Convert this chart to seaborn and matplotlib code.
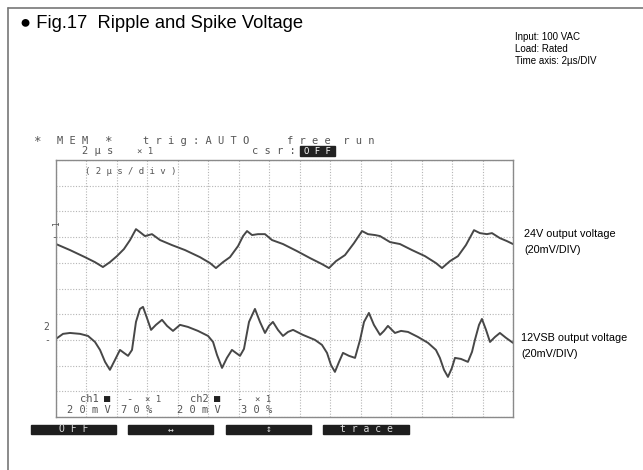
import numpy as np
import pandas as pd
import matplotlib
matplotlib.use("Agg")
import matplotlib.pyplot as plt
from matplotlib.patches import Rectangle
import seaborn as sns

# --- data (time in us, voltage in mV relative to channel marker) ---
ch1_t = [0.00, 0.92, 1.90, 2.56, 3.08, 3.54, 4.00, 4.46, 4.86, 5.25, 5.51, 5.84, 6.30, 6.83,
         7.61, 8.47, 9.45, 10.11, 10.50, 10.96, 11.42, 11.95, 12.28, 12.54, 12.87, 13.26,
         13.72, 14.18, 14.90, 15.82, 16.67, 17.46, 17.92, 18.38, 18.97, 19.56, 20.09, 20.48,
         20.94, 21.27, 21.93, 22.58, 23.37, 24.22, 24.94, 25.34, 25.86, 26.39, 26.91, 27.44,
         27.83, 28.29, 28.62, 29.14, 29.60, 30.00]
ch1_mv = [-5.4, -10.1, -15.6, -19.5, -23.3, -19.5, -14.8, -9.3, -2.3, 6.2, 3.9, 0.8, 2.3, -2.3,
          -6.2, -10.1, -15.6, -20.2, -24.1, -19.5, -15.6, -7.0, 0.8, 4.7, 1.6, 2.3,
          2.3, -2.3, -5.4, -10.9, -16.3, -21.0, -24.1, -18.7, -14.0, -4.7, 4.7, 2.3,
          1.6, 0.8, -3.9, -5.4, -10.1, -14.8, -20.2, -24.1, -18.7, -14.8, -6.2, 5.4,
          3.1, 2.3, 3.1, -0.8, -3.1, -5.4]

ch2_t = [0.00, 0.46, 0.92, 1.58, 2.10, 2.56, 2.89, 3.22, 3.54, 3.87, 4.20, 4.46, 4.73, 4.99,
         5.25, 5.51, 5.71, 5.97, 6.24, 6.56, 6.96, 7.29, 7.68, 8.14, 8.66, 9.32, 9.98, 10.31,
         10.57, 10.90, 11.22, 11.55, 11.81, 12.08, 12.34, 12.67, 13.06, 13.39, 13.72, 13.98,
         14.24, 14.57, 14.90, 15.23, 15.56, 16.21, 17.00, 17.46, 17.79, 18.05, 18.31, 18.58,
         18.84, 19.23, 19.63, 19.96, 20.22, 20.54, 20.87, 21.27, 21.53, 21.79, 22.25, 22.65,
         23.11, 23.76, 24.42, 24.94, 25.20, 25.47, 25.73, 25.99, 26.19, 26.58, 27.04, 27.31,
         27.50, 27.77, 27.96, 28.23, 28.49, 28.82, 29.14, 29.54, 30.00]
ch2_mv = [0.8, 4.7, 5.4, 4.7, 3.1, -1.6, -7.8, -17.1, -23.3, -15.6, -7.8, -10.1, -12.4, -7.8,
          14.0, 24.1, 25.7, 17.1, 7.8, 11.7, 15.6, 10.9, 7.0, 11.7, 10.1, 7.0, 3.1, -1.6,
          -11.7, -21.8, -14.0, -7.8, -10.1, -12.4, -7.0, 14.0, 24.1, 14.0, 5.4, 10.9,
          14.0, 7.8, 3.1, 6.2, 7.8, 3.9, 0.0, -3.9, -10.1, -19.5, -24.9, -17.1,
          -10.1, -12.4, -14.0, 0.0, 14.0, 21.0, 11.7, 3.9, 7.0, 10.9, 5.4, 7.0,
          6.2, 2.3, -2.3, -7.8, -14.0, -23.3, -28.8, -21.8, -14.0, -14.8, -17.1, -9.3,
          0.0, 11.7, 16.3, 7.8, -1.6, 2.3, 5.4, 1.6, -2.3]

mv_per_div = 20
ch1_offset = 2   # divisions above centre (70%)
ch2_offset = -2  # divisions below centre (30%)

W, H = 643, 470

df = pd.concat([
    pd.DataFrame({'t': ch1_t, 'pos': np.array(ch1_mv) / mv_per_div + ch1_offset, 'ch': 'ch1'}),
    pd.DataFrame({'t': ch2_t, 'pos': np.array(ch2_mv) / mv_per_div + ch2_offset, 'ch': 'ch2'}),
])

sns.set_style("white")
fig = plt.figure(figsize=(W / 100, H / 100), dpi=100)


def put(x, y, s, **kw):
    """texto en coordenadas de pixel (origen arriba a la izquierda)"""
    kw.setdefault('va', 'center')
    return fig.text(x / W, 1 - y / H, s, **kw)


def rect(x0, y0, x1, y1, **kw):
    fig.patches.append(Rectangle((x0 / W, 1 - y1 / H), (x1 - x0) / W, (y1 - y0) / H,
                                 transform=fig.transFigure, figure=fig, **kw))


# marco exterior (solo arriba e izquierda visibles)
fig.add_artist(plt.Line2D([8 / W, 8 / W], [0, 1 - 8 / H], transform=fig.transFigure,
                          color='#777777', lw=1.2))
fig.add_artist(plt.Line2D([8 / W, 1], [1 - 8 / H, 1 - 8 / H], transform=fig.transFigure,
                          color='#777777', lw=1.2))

# pantalla del osciloscopio
left, top, right, bottom = 56, 160, 513, 417
ax = fig.add_axes([left / W, 1 - bottom / H, (right - left) / W, (bottom - top) / H])
sns.lineplot(data=df, x='t', y='pos', hue='ch', palette={'ch1': '#474747', 'ch2': '#474747'},
             estimator=None, sort=False, legend=False, lw=1.4, ax=ax)
ax.set_xlim(0, 30)
ax.set_ylim(-5, 5)
ax.set_xticks(np.arange(0, 31, 2))
ax.set_yticks(np.arange(-5, 6, 1))
ax.grid(True, ls=(0, (1, 1.5)), color='#b5b5b5', lw=0.8)
ax.tick_params(length=0, labelbottom=False, labelleft=False)
ax.set_xlabel('')
ax.set_ylabel('')
for sp in ax.spines.values():
    sp.set_color('#8a8a8a')
    sp.set_linewidth(1.0)

mono = ['DejaVu Sans Mono', 'DejaVu Sans']
grey = '#555555'

# cabecera del osciloscopio
put(33, 141, '*', family=mono, fontsize=9, color=grey)
put(57, 141, 'M E M', family=mono, fontsize=7.5, color=grey)
put(104, 141, '*', family=mono, fontsize=9, color=grey)
put(143, 141, 't r i g : A U T O', family=mono, fontsize=7.5, color=grey)
put(287, 141, 'f r e e  r u n', family=mono, fontsize=7.5, color=grey)
put(82, 151, '2 µ s', family=mono, fontsize=7.5, color=grey)
put(137, 151, '× 1', family=mono, fontsize=6.5, color=grey)
put(252, 151, 'c s r :', family=mono, fontsize=7.5, color=grey)
rect(300, 146, 335, 156, color='#222222')
put(317.5, 151, 'O F F', family=mono, fontsize=6.5, color='white', ha='center')
put(85, 172, '( 2 µ s / d i v )', family=mono, fontsize=6.5, color=grey)

# marcadores de canal
put(52, 224, '1', family=mono, fontsize=5.5, color=grey, rotation=90)
put(51, 237, '-', family=mono, fontsize=7, color=grey)
put(43, 327, '2', family=mono, fontsize=7, color=grey)
put(44, 340, '-', family=mono, fontsize=7, color=grey)

# info de canales al pie
put(80, 399, 'ch1', family=mono, fontsize=7.5, color=grey)
put(104, 399, '■', family=mono, fontsize=7.5, color='#222222')
put(126, 399, '-', family=mono, fontsize=7.5, color=grey)
put(145, 399, '× 1', family=mono, fontsize=6.5, color=grey)
put(190, 399, 'ch2', family=mono, fontsize=7.5, color=grey)
put(214, 399, '■', family=mono, fontsize=7.5, color='#222222')
put(236, 399, '-', family=mono, fontsize=7.5, color=grey)
put(255, 399, '× 1', family=mono, fontsize=6.5, color=grey)
put(67, 410, '2 0 m V', family=mono, fontsize=7.5, color=grey)
put(121, 410, '7 0 %', family=mono, fontsize=7.5, color=grey)
put(177, 410, '2 0 m V', family=mono, fontsize=7.5, color=grey)
put(241, 410, '3 0 %', family=mono, fontsize=7.5, color=grey)

# botones
buttons = [(31, 116, 'O F F'), (128, 213, '↔'), (226, 311, '↕'), (323, 409, 't r a c e')]
for x0, x1, lab in buttons:
    rect(x0, 425, x1, 434, color='#1e1e1e')
    put((x0 + x1) / 2, 429.5, lab, family=mono, fontsize=7, color='#dddddd', ha='center')

# textos del documento
sans = ['Liberation Sans', 'DejaVu Sans']
put(20, 23, '● Fig.17  Ripple and Spike Voltage', family=sans, fontsize=13.2, color='black')
put(515, 37, 'Input: 100 VAC', family=sans, fontsize=7, color='black')
put(515, 49, 'Load: Rated', family=sans, fontsize=7, color='black')
put(515, 61, 'Time axis: 2µs/DIV', family=sans, fontsize=7, color='black')
put(524, 234, '24V output voltage', family=sans, fontsize=7.8, color='black')
put(524, 250, '(20mV/DIV)', family=sans, fontsize=7.8, color='black')
put(521, 338, '12VSB output voltage', family=sans, fontsize=7.8, color='black')
put(521, 354, '(20mV/DIV)', family=sans, fontsize=7.8, color='black')

fig.savefig('out.png', dpi=100, facecolor='white')
